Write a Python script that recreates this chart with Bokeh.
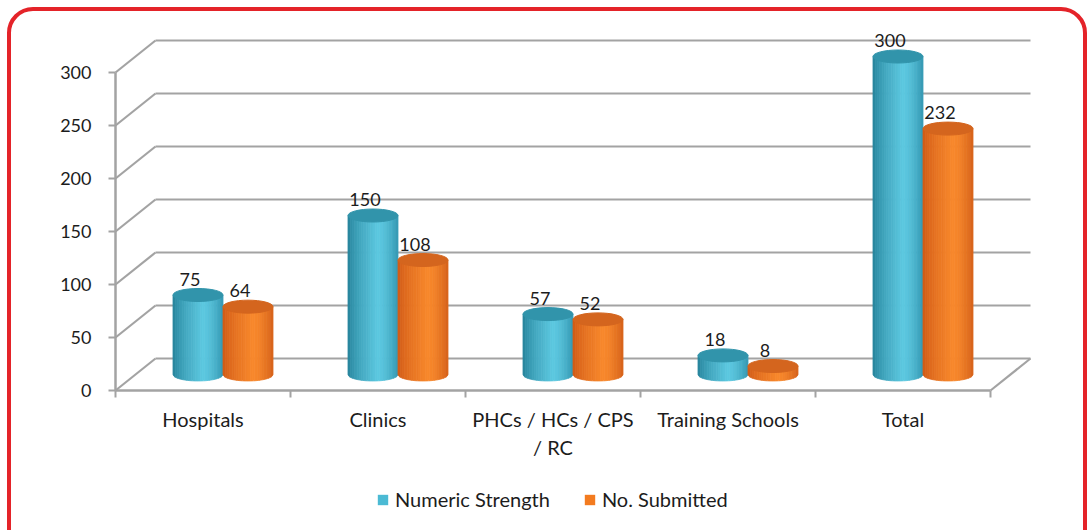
from bokeh.plotting import figure
from bokeh.models import Range1d, FixedTicker, BoxAnnotation, Legend, LegendItem
from bokeh.core.properties import value
from bokeh.embed import file_html
from bokeh.resources import INLINE
import numpy as np

# ---------------- data ----------------
categories = ["Hospitals", "Clinics", "PHCs / HCs / CPS / RC", "Training Schools", "Total"]
category_labels = ["Hospitals", "Clinics", "PHCs / HCs / CPS\n/ RC", "Training Schools", "Total"]
numeric_strength = [75, 150, 57, 18, 300]
no_submitted = [64, 108, 52, 8, 232]
y_ticks = [0, 50, 100, 150, 200, 250, 300]
series_names = ["Numeric Strength", "No. Submitted"]

# ---------------- layout constants ----------------
W, H = 1089, 530
PX_X = 175.0          # px per category
PX_Y = 1.06           # px per value unit
AX_X, AX_Y = 115, 390 # canvas position of the axes origin
x_start = -AX_X / PX_X
x_end = (W - AX_X) / PX_X
y_start = -(H - AX_Y) / PX_Y
y_end = AX_Y / PX_Y

DX = 40 / PX_X        # depth offset (x)
DY = 32 / PX_Y        # depth offset (y)
HW = 25 / PX_X        # half bar width
EB = 6.5 / PX_Y       # ellipse half height
GRID = "#A3A3A3"
FONT = "Lato"
TXT = "#1c1c1c"

p = figure(width=W, height=H, x_range=Range1d(x_start, x_end), y_range=Range1d(y_start, y_end),
           output_backend="svg", toolbar_location=None,
           min_border_left=0, min_border_right=0, min_border_top=0, min_border_bottom=0)
p.outline_line_color = None
p.xgrid.visible = False
p.ygrid.visible = False
p.background_fill_color = "white"
p.border_fill_color = "white"

# ---------------- 3D walls ----------------
n = len(categories)
gx0 = [DX] * len(y_ticks)
gx1 = [n + DX] * len(y_ticks)
gy = [v + DY for v in y_ticks]
p.segment(x0=gx0, y0=gy, x1=gx1, y1=gy, line_color=GRID, line_width=2.2)
p.segment(x0=[0] * len(y_ticks), y0=y_ticks, x1=gx0, y1=gy, line_color=GRID, line_width=2.2)
p.segment(x0=[n], y0=[0], x1=[n + DX], y1=[DY], line_color=GRID, line_width=2.2)

# ---------------- cylinders ----------------
def lerp(a, b, t):
    return tuple(int(round(a[i] + (b[i] - a[i]) * t)) for i in range(3))

def shade(t, dark, light, right):
    if t < 0.6:
        c = lerp(dark, light, (t / 0.6) ** 0.7)
    else:
        c = lerp(light, right, ((t - 0.6) / 0.4) ** 1.6)
    return "#%02x%02x%02x" % c

palettes = [
    dict(dark=(36, 128, 152), light=(92, 200, 224), right=(52, 152, 178), top="#3194ab", legend="#4bbad4"),
    dict(dark=(206, 88, 22), light=(248, 136, 44), right=(214, 98, 26), top="#d4651e", legend="#f37b20"),
]

NS = 22
legend_renderers = []
for s, vals in enumerate([numeric_strength, no_submitted]):
    pal = palettes[s]
    xs_all, ys_all, cols = [], [], []
    tops_x, tops_y = [], []
    lab_x, lab_y, lab_t = [], [], []
    for i, v in enumerate(vals):
        cx = i + 0.5 + DX / 2 + (-HW if s == 0 else HW)
        yb = DY / 2
        yt = DY / 2 + v
        edges = np.linspace(-HW, HW, NS + 1)
        for k in range(NS):
            x0, x1 = edges[k], edges[k + 1]
            xx = np.linspace(x0, x1, 4)
            bot = yb - EB * np.sqrt(np.clip(1 - (xx / HW) ** 2, 0, 1))
            px = [cx + x0, cx + x1] + list(cx + xx[::-1])
            py = [yt, yt] + list(bot[::-1])
            xs_all.append(px)
            ys_all.append(py)
            cols.append(shade((k + 0.5) / NS, pal["dark"], pal["light"], pal["right"]))
        tops_x.append(cx)
        tops_y.append(yt)
        lab_x.append(cx - 8 / PX_X)
        lab_y.append(yt + EB + 3 / PX_Y)
        lab_t.append(str(v))
    p.patches(xs=xs_all, ys=ys_all, fill_color=cols, line_color=cols, line_width=0.8)
    p.ellipse(x=tops_x, y=tops_y, width=2 * HW, height=2 * EB, fill_color=pal["top"], line_color=pal["top"])
    p.text(x=lab_x, y=lab_y, text=lab_t, text_align="center", text_baseline="bottom",
           text_font=value(FONT), text_font_size="18px", text_color=TXT)
    # zero-size proxy used only as the legend swatch
    r = p.quad(left=[0], right=[0], top=[0], bottom=[0], fill_color=pal["legend"], line_color=None)
    legend_renderers.append(r)

# ---------------- axes ----------------
ya = p.yaxis[0]
ya.fixed_location = 0
ya.ticker = FixedTicker(ticks=y_ticks)
ya.bounds = (0, 300)
ya.axis_line_color = GRID
ya.axis_line_width = 2.5
ya.major_tick_out = 7
ya.major_tick_in = 0
ya.minor_tick_out = 0
ya.minor_tick_in = 0
ya.major_tick_line_color = GRID
ya.major_tick_line_width = 2
ya.major_label_standoff = 17
ya.major_label_text_font = FONT
ya.major_label_text_font_size = "18px"
ya.major_label_text_color = TXT

xa = p.xaxis[0]
xa.fixed_location = 0
centers = [i + 0.5 for i in range(n)]
xa.ticker = FixedTicker(ticks=centers, minor_ticks=list(range(n + 1)))
xa.bounds = (0, n)
xa.axis_line_color = GRID
xa.axis_line_width = 2.5
xa.major_tick_out = 0
xa.major_tick_in = 0
xa.minor_tick_out = 7
xa.minor_tick_in = 0
xa.minor_tick_line_color = GRID
xa.minor_tick_line_width = 2
xa.major_label_overrides = {c: lab for c, lab in zip(centers, category_labels)}
xa.major_label_standoff = 9
xa.major_label_text_font = FONT
xa.major_label_text_font_size = "20px"
xa.major_label_text_color = TXT

# ---------------- legend ----------------
legend = Legend(items=[LegendItem(label=series_names[i], renderers=[legend_renderers[i]]) for i in range(2)],
                orientation="horizontal", location=(376, 19),
                border_line_color=None, background_fill_alpha=0,
                glyph_width=13, glyph_height=13, label_standoff=6, spacing=33,
                padding=0, margin=0,
                label_text_font=FONT, label_text_font_size="20px", label_text_color=TXT)
p.add_layout(legend)

# ---------------- outer red rounded border ----------------
border = BoxAnnotation(left=x_start + 8.5 / PX_X, right=x_end - 4.5 / PX_X,
                       top=y_end - 8.5 / PX_Y, bottom=y_start - 40 / PX_Y,
                       fill_color=None, fill_alpha=0, line_color="#e42329", line_alpha=1.0,
                       line_width=4, border_radius=24)
p.add_layout(border)

open("out.html", "w").write(file_html(p, INLINE))
